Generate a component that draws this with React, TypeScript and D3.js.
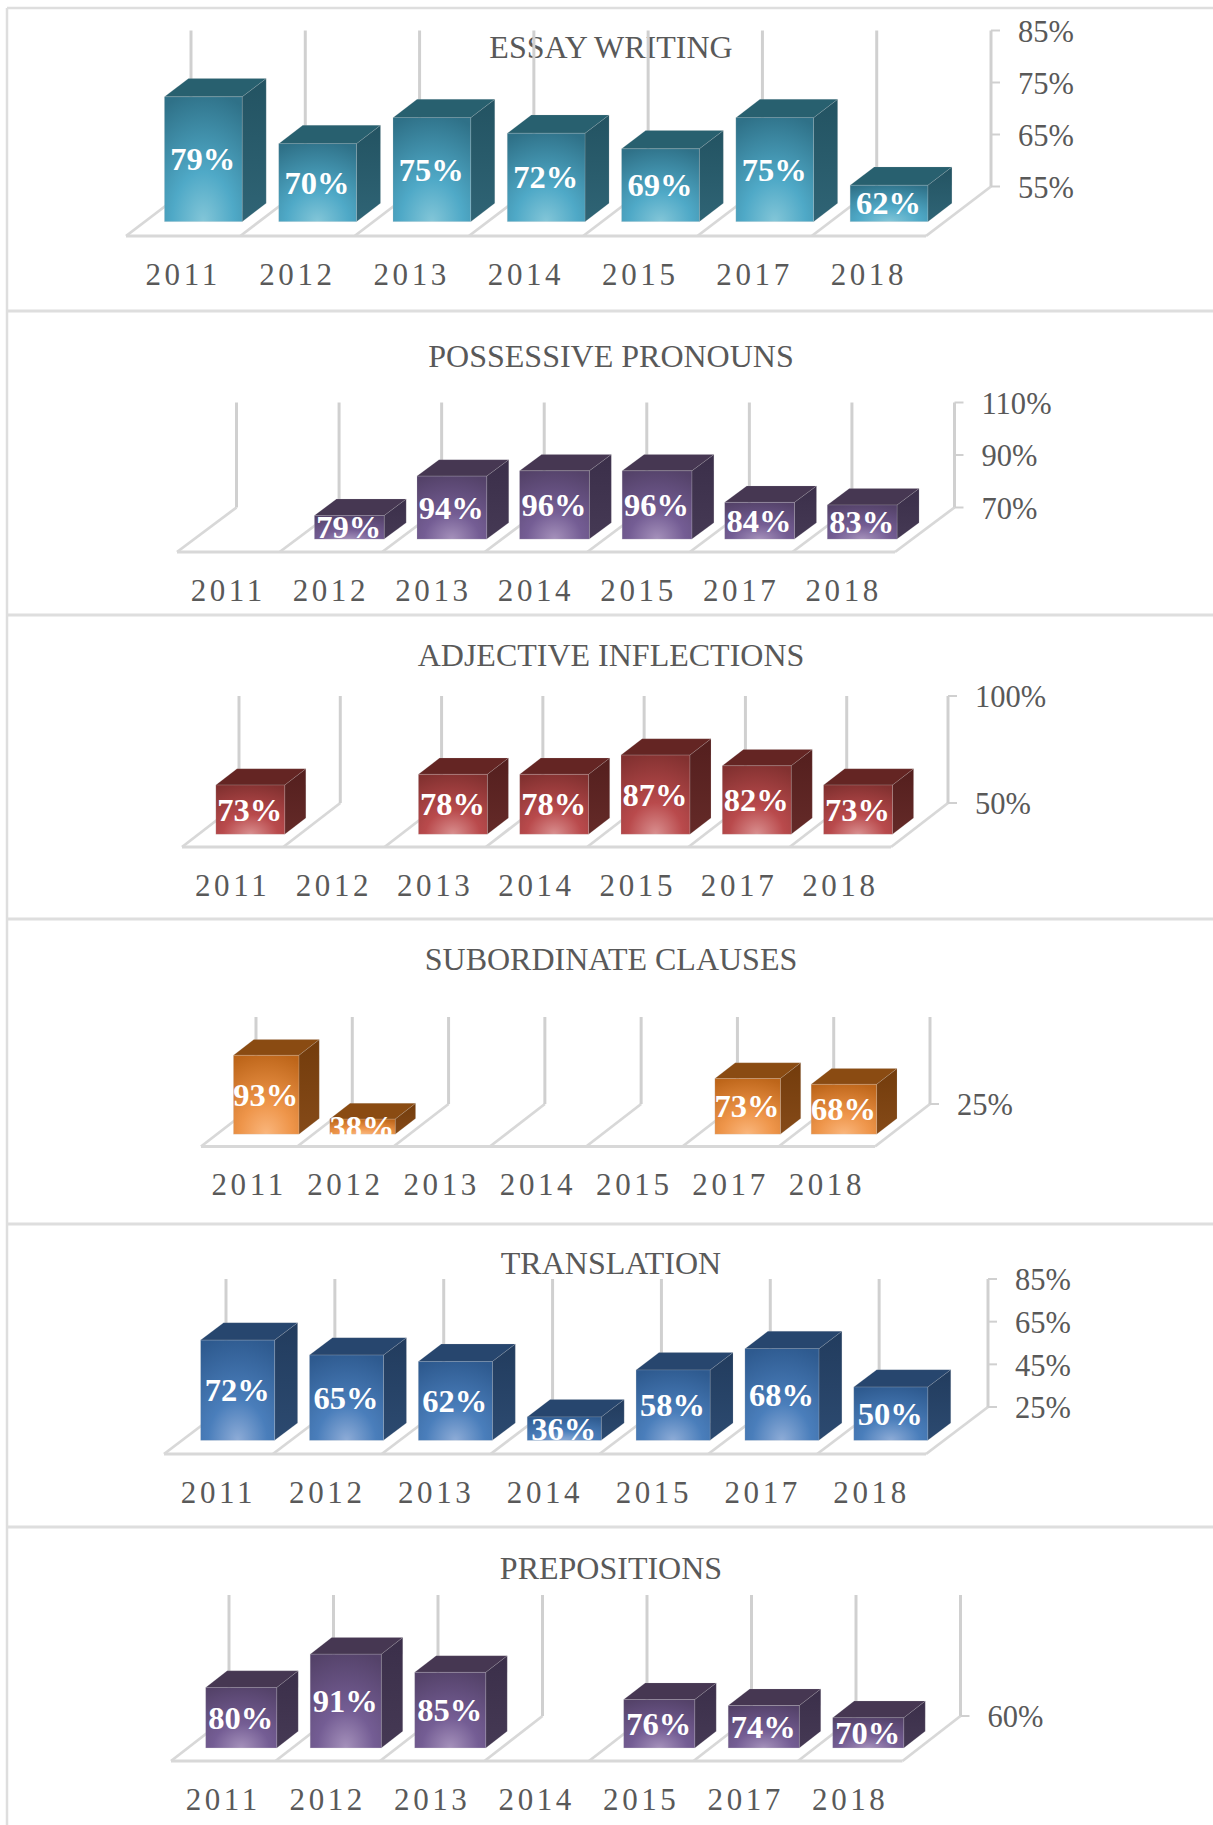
import * as d3 from "d3"

const years = ["2011", "2012", "2013", "2014", "2015", "2017", "2018"]

const essayValues = [79, 70, 75, 72, 69, 75, 62]
const pronounValues = [null, 79, 94, 96, 96, 84, 83]
const adjectiveValues = [73, null, 78, 78, 87, 82, 73]
const clauseValues = [93, 38, null, null, null, 73, 68]
const translationValues = [72, 65, 62, 36, 58, 68, 50]
const prepositionValues = [80, 91, 85, null, 76, 74, 70]

const essayTicks = [55, 65, 75, 85]
const pronounTicks = [70, 90, 110]
const adjectiveTicks = [50, 100]
const clauseTicks = [25]
const translationTicks = [25, 45, 65, 85]
const prepositionTicks = [60]

const WIDTH = 1213
const HEIGHT = 1825
const FONT = "'Liberation Serif', 'Times New Roman', serif"
const TEXT_COLOR = "#595959"
const LINE_COLOR = "#d0d0d0"
const dividers = [311, 615, 919, 1224, 1527]

const panels = [
  { id: "essay", title: "ESSAY WRITING", values: essayValues, ticks: essayTicks, domain: [55, 85], titleY: 58, left: 126, right: 926, floorY: 236, dx: 65, dy: 49.5, plotH: 156,
    colors: { light: "#83c6d8", mid: "#4fa9c7", dark: "#2f7188", top: "#28606f", side: "#235362", sideLow: "#2f6475" } },
  { id: "pronoun", title: "POSSESSIVE PRONOUNS", values: pronounValues, ticks: pronounTicks, domain: [70, 110], titleY: 367, left: 177, right: 895, floorY: 552, dx: 59.5, dy: 44.5, plotH: 105,
    colors: { light: "#a591bb", mid: "#745d94", dark: "#544269", top: "#463752", side: "#3b2f4a", sideLow: "#453954" } },
  { id: "adjective", title: "ADJECTIVE INFLECTIONS", values: adjectiveValues, ticks: adjectiveTicks, domain: [50, 100], titleY: 666, left: 182, right: 891, floorY: 847, dx: 57, dy: 44, plotH: 107,
    colors: { light: "#d98f8f", mid: "#b94a4c", dark: "#823130", top: "#642523", side: "#541f1e", sideLow: "#642a28" } },
  { id: "clause", title: "SUBORDINATE CLAUSES", values: clauseValues, ticks: clauseTicks, domain: [25, 100], titleY: 970, left: 201, right: 875, floorY: 1146.5, dx: 55, dy: 42.5, plotH: 87,
    colors: { light: "#fab67c", mid: "#ee954a", dark: "#bd6519", top: "#8a4b12", side: "#733c0c", sideLow: "#854a18" } },
  { id: "translation", title: "TRANSLATION", values: translationValues, ticks: translationTicks, domain: [25, 85], titleY: 1274, left: 164, right: 926, floorY: 1454, dx: 62, dy: 47, plotH: 128,
    colors: { light: "#8eacd7", mid: "#4a7ebb", dark: "#2e5a8f", top: "#27466e", side: "#223c5e", sideLow: "#2c4a70" } },
  { id: "preposition", title: "PREPOSITIONS", values: prepositionValues, ticks: prepositionTicks, domain: [60, 100], titleY: 1579, left: 171, right: 902.5, floorY: 1761, dx: 58, dy: 45, plotH: 121,
    colors: { light: "#a591bb", mid: "#745d94", dark: "#544269", top: "#463752", side: "#3b2f4a", sideLow: "#453954" } },
]

// how far the bar sits into the floor, as a share of the floor depth
const GAP_X = 0.31
const GAP_Y = 0.29
const DEPTH_BAR = 0.37

const facePath = (pts: [number, number][]) => d3.line()(pts) + "Z"

const Panel = ({ panel }: { panel: (typeof panels)[number] }) => {
  const { id, title, values, ticks, domain, titleY, left, right, floorY, dx, dy, plotH, colors } = panel
  const floorX = d3.scaleLinear().domain([0, years.length]).range([left, right])
  const band = d3.scaleBand().domain(years).range([left, right]).paddingInner(0.32).paddingOuter(0.16)
  const barH = d3.scaleLinear().domain(domain).range([0, plotH])
  const wallBottom = floorY - dy
  const wallTop = wallBottom - plotH
  const axisX = right + dx
  const tickY = (t: number) => wallBottom - barH(t)

  return (
    <g>
      <defs>
        <radialGradient id={`${id}-front`} cx="50%" cy="100%" r="105%">
          <stop offset="0%" stopColor={colors.light} />
          <stop offset="38%" stopColor={colors.mid} />
          <stop offset="100%" stopColor={colors.dark} />
        </radialGradient>
        <linearGradient id={`${id}-side`} x1="0" y1="0" x2="0" y2="1">
          <stop offset="0%" stopColor={colors.side} />
          <stop offset="100%" stopColor={colors.sideLow} />
        </linearGradient>
      </defs>

      <text x={611} y={titleY} textAnchor="middle" fontSize={32} fill={TEXT_COLOR}>
        {title}
      </text>

      {/* floor and back wall lines */}
      {d3.range(years.length + 1).map((i) => (
        <g key={i} fill="none">
          <line x1={floorX(i)} y1={floorY} x2={floorX(i) + dx} y2={wallBottom} strokeWidth={2.8} stroke="#d8d8d8" />
          <line x1={floorX(i) + dx} y1={wallBottom} x2={floorX(i) + dx} y2={wallTop} strokeWidth={3} stroke={LINE_COLOR} />
        </g>
      ))}
      <line x1={left} y1={floorY} x2={right} y2={floorY} stroke="#d8d8d8" strokeWidth={3.2} />

      {ticks.map((t) => (
        <g key={t}>
          <line x1={axisX} y1={tickY(t)} x2={axisX + 9} y2={tickY(t)} stroke={LINE_COLOR} strokeWidth={2} />
          <text x={axisX + 27} y={tickY(t) + 1} dy="0.34em" fontSize={30.5} fill={TEXT_COLOR}>
            {t}%
          </text>
        </g>
      ))}

      {years.map((year, i) => {
        const v = values[i]
        if (v == null) return null
        const bottom = floorY - dy * GAP_Y
        const top = bottom - barH(v)
        const x0 = band(year)! + dx * GAP_X
        const x1 = x0 + band.bandwidth()
        const ox = dx * DEPTH_BAR
        const oy = dy * DEPTH_BAR
        return (
          <g key={year}>
            <path
              d={facePath([[x1, top], [x1 + ox, top - oy], [x1 + ox, bottom - oy], [x1, bottom]])}
              fill={`url(#${id}-side)`}
              stroke="#c9c9c9"
              strokeOpacity={0.2}
              strokeWidth={0.8}
            />
            <path
              d={facePath([[x0, top], [x0 + ox, top - oy], [x1 + ox, top - oy], [x1, top]])}
              fill={colors.top}
              stroke="#c9c9c9"
              strokeOpacity={0.2}
              strokeWidth={0.8}
            />
            <rect x={x0} y={top} width={x1 - x0} height={bottom - top} fill={`url(#${id}-front)`} stroke="#c9c9c9" strokeOpacity={0.25} strokeWidth={0.8} />
            <text
              x={(x0 + x1) / 2 - 0.5}
              y={(top + bottom) / 2}
              dy="0.34em"
              textAnchor="middle"
              fontSize={32.5}
              fontWeight="bold"
              fill="#ffffff"
            >
              {v}%
            </text>
          </g>
        )
      })}

      {years.map((year, i) => (
        <text
          key={year}
          x={(floorX(i) + floorX(i + 1)) / 2}
          y={floorY + 38}
          dy="0.34em"
          textAnchor="middle"
          fontSize={31}
          letterSpacing={3.6}
          fill={TEXT_COLOR}
        >
          {year}
        </text>
      ))}
    </g>
  )
}

export default function App() {
  return (
    <svg
      width={WIDTH}
      height={HEIGHT}
      style={{ position: "absolute", left: 0, top: 0, background: "#fff", fontFamily: FONT }}
    >
      <line x1={7} y1={8} x2={WIDTH} y2={8} stroke="#dedede" strokeWidth={2.5} />
      <line x1={7} y1={8} x2={7} y2={HEIGHT} stroke="#dedede" strokeWidth={2.5} />
      {dividers.map((y) => (
        <line key={y} x1={7} y1={y} x2={WIDTH} y2={y} stroke="#dedede" strokeWidth={3} />
      ))}
      {panels.map((p) => (
        <Panel key={p.id} panel={p} />
      ))}
    </svg>
  )
}
